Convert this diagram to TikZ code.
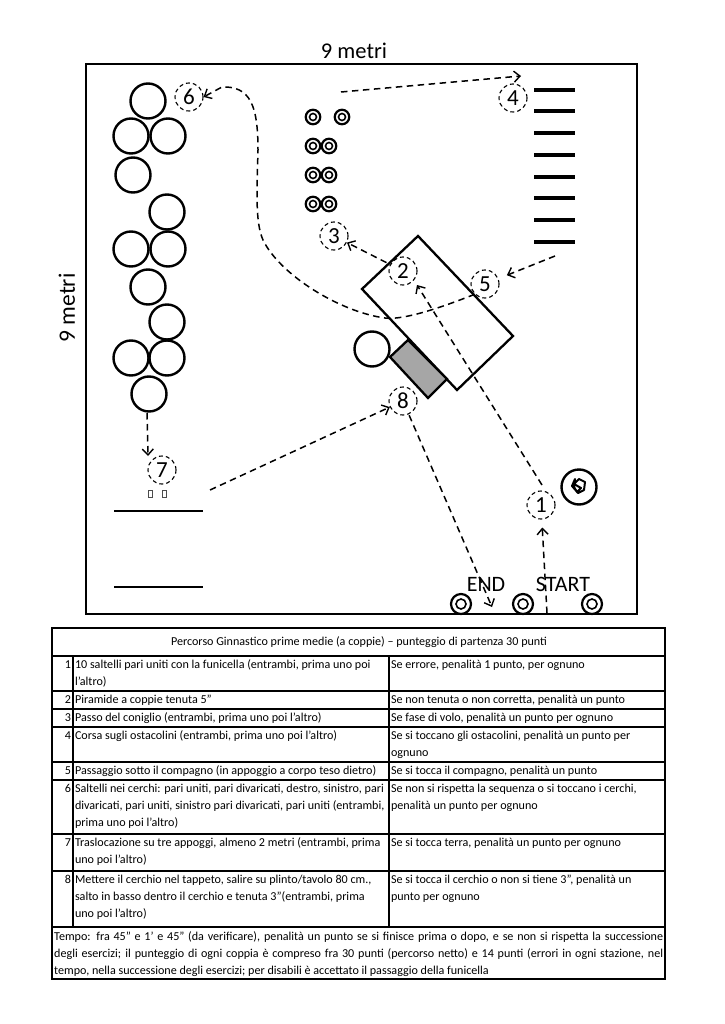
\documentclass[tikz,border=0pt]{standalone}
\usepackage{fontspec}
\setmainfont{Carlito}
\usetikzlibrary{arrows.meta}
\tikzset{
 x=1pt,y=-1pt,
 ring/.style={circle,draw=black,line width=2.4pt,minimum size=35pt,inner sep=0pt},
 numc/.style={circle,draw=black,line width=1.1pt,dash pattern=on 4pt off 3pt,minimum size=28pt,inner sep=0pt,font=\fontsize{23}{23}\selectfont},
 conn/.style={draw=black,line width=1.5pt,dash pattern=on 6.5pt off 4.5pt,-{Straight Barb[length=6pt,width=11pt,line width=1.4pt]}},
 bar/.style={draw=black,line width=3.2pt},
 tbar/.style={draw=black,line width=2.6pt},
 cell/.style={anchor=north west,inner sep=0pt,outer sep=0pt,align=left,font=\fontsize{12.1}{16.7}\selectfont},
 numcell/.style={anchor=north east,inner sep=0pt,outer sep=0pt,font=\fontsize{12.1}{16.7}\selectfont},
 tline/.style={draw=black,line width=1.2pt},
 endlabel/.style={inner sep=0pt,font=\fontsize{22}{22}\selectfont}
}
\begin{document}
\begin{tikzpicture}
\useasboundingbox (0,0) rectangle (724,1024);
\fill[white] (0,0) rectangle (724,1024);
% field
\draw[draw=black,line width=2.6pt] (86,64) rectangle (637,614);
\node[inner sep=0pt,font=\fontsize{22.5}{22.5}\selectfont] (topl) at (354,51) {9 metri};
\node[inner sep=0pt,rotate=90,font=\fontsize{23.5}{23.5}\selectfont] (leftl) at (67,308) {9 metri};
% hoops
\foreach \n/\p in {a/{(148,101)},b/{(131,136)},c/{(168,136)},d/{(133,175)},e/{(167,212)},f/{(131,249)},g/{(168,249)},h/{(148,287)},i/{(167,322)},j/{(131,358)},k/{(167,358)},l/{(149,394)},m/{(372,349)},r/{(579,487)}}
  {\node[ring] (hoop\n) at \p {};}
% rope scribble
\draw[black,line width=2pt,line join=round] (575,479) -- (572,486) -- (578,493) -- (584,490) -- (585,482) -- (579,479) -- (574,484) -- (581,488) -- (577,492) -- (574,487) -- cycle;
% targets
\foreach \n/\p in {a/{(313,117)},b/{(342,117)},c/{(313,146)},d/{(329,146)},e/{(313,175)},f/{(329,175)},g/{(313,204)},h/{(329,204)}}
 {\node[circle,draw=black,line width=2.2pt,minimum size=14.5pt,inner sep=0pt] (tg\n) at \p {};
  \node[circle,draw=black,line width=1.6pt,minimum size=7pt,inner sep=0pt] (tin\n) at \p {};}
\foreach \n/\p in {a/{(461,604)},b/{(523,604)},c/{(592,604)}}
 {\node[circle,draw=black,line width=2.2pt,minimum size=20pt,inner sep=0pt] (bt\n) at \p {};
  \node[circle,draw=black,line width=1.6pt,minimum size=10pt,inner sep=0pt] (bi\n) at \p {};}
% hurdles
\foreach \y in {90,111,133,155,177,198,220,242} {\draw[bar] (534,\y) -- (575,\y);}
% mat and plinth
\draw[draw=black,line width=2.3pt,line join=miter] (418,236) -- (362,289) -- (457,390) -- (513,336) -- cycle;
\draw[draw=black,fill=black!35,line width=2.3pt] (408,340) -- (390,357) -- (428,398) -- (447,379) -- cycle;
% line 7
\draw[tbar] (114,511) -- (203,511);
\draw[tbar] (114,587) -- (203,587);
\draw[draw=black!70,line width=.9pt] (148,490.5) rectangle (152,497.5);
\draw[draw=black!70,line width=.9pt] (162,490.5) rectangle (166,497.5);
% station numbers
\node[numc] (n1) at (541,505) {1};
\node[numc] (n2) at (403,271) {2};
\node[numc] (n3) at (334,236) {3};
\node[numc] (n4) at (513,98) {4};
\node[numc] (n5) at (485,284) {5};
\node[numc] (n6) at (189,97) {6};
\node[numc] (n7) at (162,470) {7};
\node[numc] (n8) at (403,401) {8};
% free ends
\coordinate (startfoot) at (547,613);
\coordinate (endfoot) at (492,607);
\coordinate (fourstart) at (341,92);
\coordinate (fourend) at (521,76);
\coordinate (hurdleout) at (555,256);
\coordinate (hoopout) at (147,413);
\coordinate (sevenin) at (148,456);
\coordinate (matout) at (210,490);
\coordinate (onestart) at (542,485);
\coordinate (twoin) at (417,285);
% connectors
\draw[conn,shorten >=8pt] (startfoot) -- (n1);
\draw[conn] (onestart) -- (twoin);
\draw[conn,shorten <=4pt] (n2) -- (n3);
\draw[conn] (fourstart) -- (fourend);
\draw[conn,shorten >=9pt] (hurdleout) -- (n5);
\draw[conn] (n5.south west) .. controls (430,312) and (400,320) .. (385,318)
   .. controls (340,312) and (280,275) .. (263,240)
   .. controls (255,222) and (257,190) .. (258,150)
   .. controls (258,105) and (250,86) .. (222,87) -- (n6.east);
\draw[conn] (hoopout) -- (sevenin);
\draw[conn] (matout) -- (n8);
\draw[conn,shorten <=1pt] (n8) -- (endfoot);
\node[endlabel] (endl) at (486,584) {END};
\node[endlabel] (startl) at (563,584) {START};
% table
\draw[draw=black,line width=1.4pt] (52,628) rectangle (665,979);
\foreach \y in {656,691,709,727,762,780,834,871,927} {\draw[tline] (52,\y) -- (665,\y);}
\draw[tline] (73,656) -- (73,927);
\draw[tline] (389,656) -- (389,927);
\node[inner sep=0pt,font=\fontsize{12.1}{16.7}\selectfont] (title) at (359,642) {Percorso Ginnastico prime medie (a coppie) – punteggio di partenza 30 punti};
\foreach \n/\y in {1/657,2/692,3/710,4/728,5/763,6/781,7/835,8/872} {\node[numcell] (num\n) at (71,\y) {\strut\n};}
\node[cell] (a1) at (75,657) {\strut 10 saltelli pari uniti con la funicella (entrambi, prima uno poi\\l’altro)};
\node[cell] (b1) at (391,657) {\strut Se errore, penalità 1 punto, per ognuno};
\node[cell] (a2) at (75,692) {\strut Piramide a coppie tenuta 5”};
\node[cell] (b2) at (391,692) {\strut Se non tenuta o non corretta, penalità un punto};
\node[cell] (a3) at (75,710) {\strut Passo del coniglio (entrambi, prima uno poi l’altro)};
\node[cell] (b3) at (391,710) {\strut Se fase di volo, penalità un punto per ognuno};
\node[cell] (a4) at (75,728) {\strut Corsa sugli ostacolini (entrambi, prima uno poi l’altro)};
\node[cell] (b4) at (391,728) {\strut Se si toccano gli ostacolini, penalità un punto per\\ognuno};
\node[cell] (a5) at (75,763) {\strut Passaggio sotto il compagno (in appoggio a corpo teso dietro)};
\node[cell] (b5) at (391,763) {\strut Se si tocca il compagno, penalità un punto};
\node[cell] (a6) at (75,781) {\strut Saltelli nei cerchi: pari uniti, pari divaricati, destro, sinistro, pari\\divaricati, pari uniti, sinistro pari divaricati, pari uniti (entrambi,\\prima uno poi l'altro)};
\node[cell] (b6) at (391,781) {\strut Se non si rispetta la sequenza o si toccano i cerchi,\\penalità un punto per ognuno};
\node[cell] (a7) at (75,835) {\strut Traslocazione su tre appoggi, almeno 2 metri (entrambi, prima\\uno poi l’altro)};
\node[cell] (b7) at (391,835) {\strut Se si tocca terra, penalità un punto per ognuno};
\node[cell] (a8) at (75,872) {\strut Mettere il cerchio nel tappeto, salire su plinto/tavolo 80 cm.,\\salto in basso dentro il cerchio e tenuta 3"(entrambi, prima\\uno poi l’altro)};
\node[cell] (b8) at (391,872) {\strut Se si tocca il cerchio o non si tiene 3", penalità un\\punto per ognuno};
\node[anchor=north west,inner sep=0pt,text width=609pt,align=justify,font=\fontsize{12.1}{16.7}\selectfont] (foot) at (54,929) {\strut Tempo: fra 45" e 1' e 45" (da verificare), penalità un punto se si finisce prima o dopo, e se non si rispetta la successione\linebreak degli esercizi; il punteggio di ogni coppia è compreso fra 30 punti (percorso netto) e 14 punti (errori in ogni stazione, nel\linebreak tempo, nella successione degli esercizi; per disabili è accettato il passaggio della funicella};
\end{tikzpicture}
\end{document}
